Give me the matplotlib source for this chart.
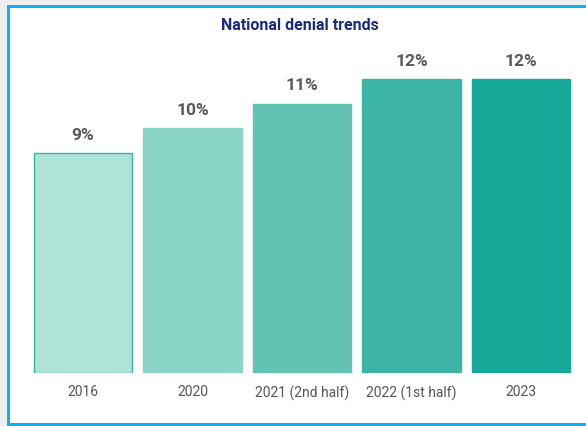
import matplotlib
matplotlib.use("Agg")
import matplotlib.pyplot as plt
from matplotlib.patches import Rectangle

categories = ["2016", "2020", "2021 (2nd half)", "2022 (1st half)", "2023"]
values = [9, 10, 11, 12, 12]
labels = ["9%", "10%", "11%", "12%", "12%"]
colors = ["#b0e3d8", "#8ad5c5", "#62c3b2", "#3db5a6", "#16a899"]
edges = ["#3bb3a0", "#8ad5c5", "#62c3b2", "#3db5a6", "#16a899"]

plt.rcParams['font.family'] = ['Roboto', 'DejaVu Sans']

W, H = 586, 426
fig = plt.figure(figsize=(W/100, H/100), dpi=100)
fig.patch.set_facecolor("#efefef")

# white panel with blue border
panel = Rectangle((7.5/W, 2.5/H), (W + 10)/W, (H - 8)/H, transform=fig.transFigure,
                  facecolor="white", edgecolor="#0cb2f0", linewidth=3*72/100, zorder=-10)
fig.patches.append(panel)

fig.text(300/W, 1 - 26/H, "National denial trends", ha="center", va="center",
         fontsize=11.5, fontweight="bold", color="#1b2a7c")

left = 28.25
right = 575.75
bottom = 373
top = 373 - 13*24.5
ax = fig.add_axes([left/W, 1 - bottom/H, (right-left)/W, (bottom-top)/H])
ax.set_facecolor("none")
ax.set_zorder(5)
x = range(len(categories))
ax.bar(x, values, width=0.895, color=colors, edgecolor=edges, linewidth=1)
for xi, v, lab in zip(x, values, labels):
    ax.annotate(lab, (xi, v), xytext=(0, 10), textcoords="offset pixels",
                ha="center", va="bottom", fontsize=12.5, fontweight="bold", color="#595959")
ax.set_xlim(-0.5, 4.5)
ax.set_ylim(0, 13)
ax.set_xticks(list(x))
ax.set_xticklabels(categories, fontsize=10, color="#555555")
ax.tick_params(axis="x", length=0, pad=9)
ax.set_yticks([])
for s in ax.spines.values():
    s.set_visible(False)

fig.savefig("out.png", dpi=100, facecolor=fig.get_facecolor())
